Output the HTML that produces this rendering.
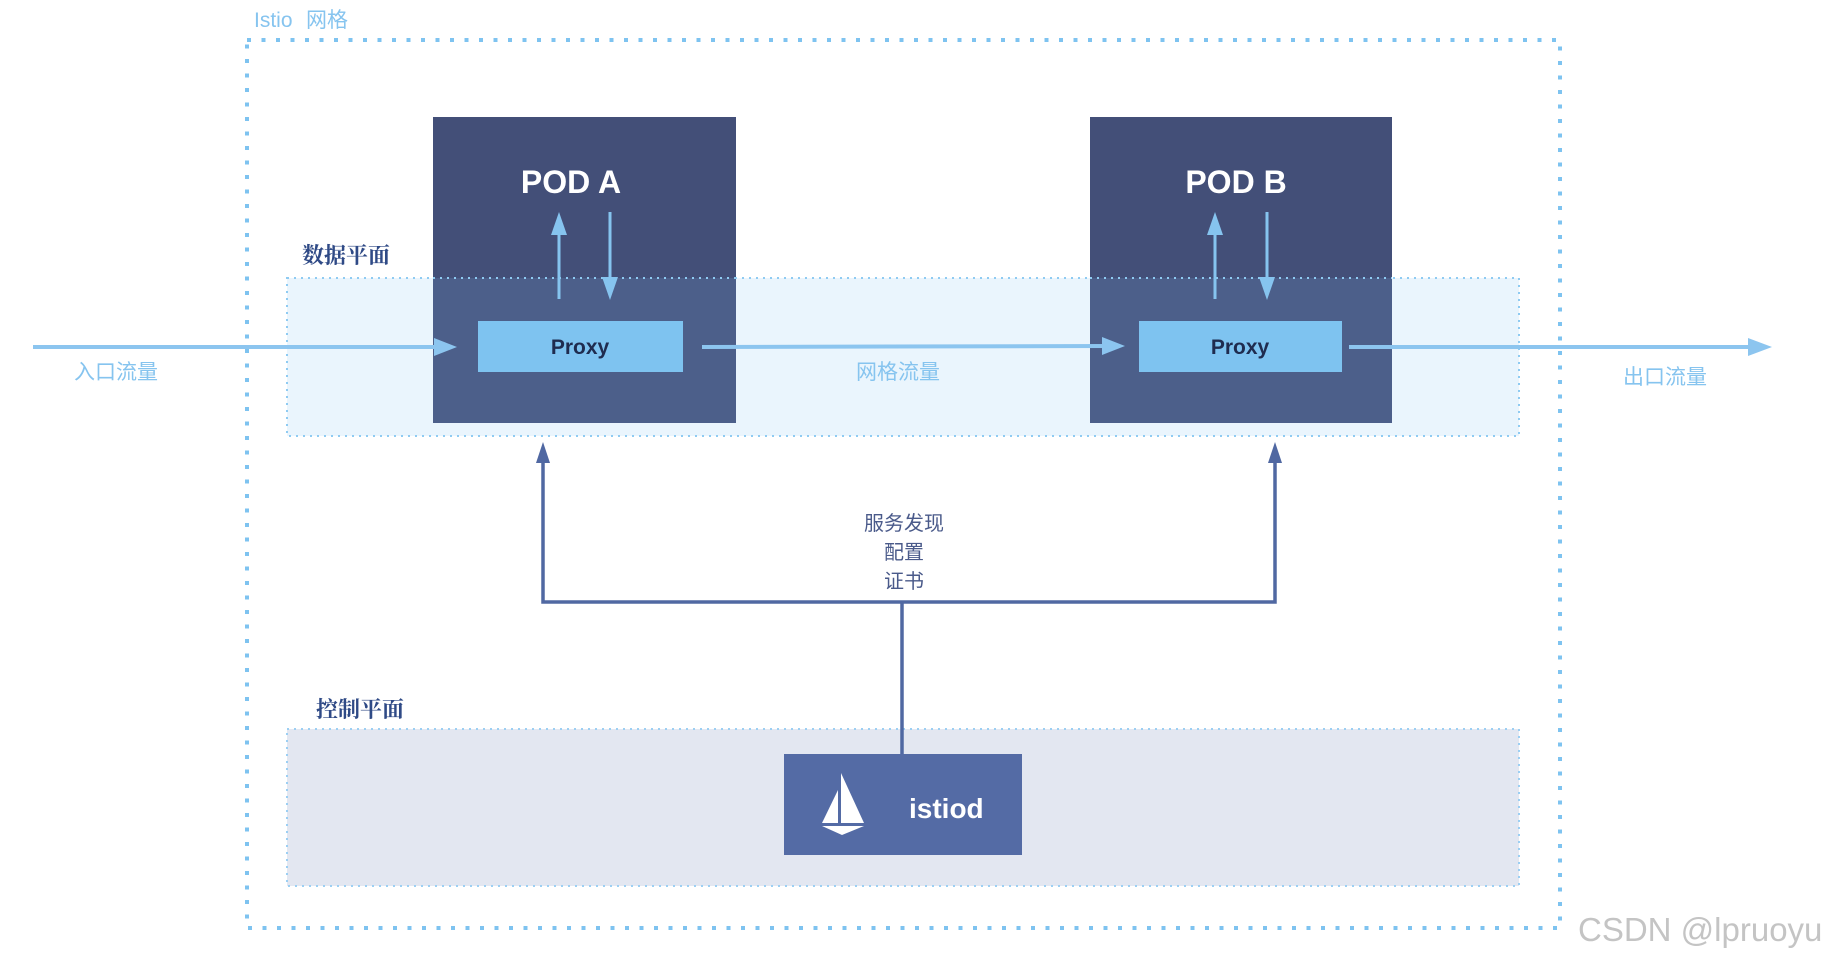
<!DOCTYPE html>
<html><head><meta charset="utf-8"><style>
html,body{margin:0;padding:0;background:#fff;width:1823px;height:962px;overflow:hidden}
svg{display:block}
.s{font-family:"Liberation Sans","Noto Sans CJK SC",sans-serif}
.b{font-family:"Liberation Sans","Noto Sans CJK SC",sans-serif;font-weight:bold}
.sr{font-family:"Liberation Serif","Noto Serif CJK SC",serif;font-weight:bold}
</style></head><body>
<svg width="1823" height="962" viewBox="0 0 1823 962" xmlns="http://www.w3.org/2000/svg">
<text x="254" y="27" class="s" font-size="21" fill="#86c4ef">Istio</text>
<text x="306" y="27" class="s" font-size="21" fill="#86c4ef">网格</text>
<rect x="247" y="40" width="1313" height="888" fill="none" stroke="#7ec3f0" stroke-width="4" stroke-dasharray="4 10.5"/>
<rect x="287" y="278" width="1232" height="158" fill="#eaf5fd" stroke="#8fcbf2" stroke-width="2" stroke-dasharray="2 5"/>
<text x="302" y="263" class="sr" font-size="22" fill="#2f4a86">数据平面</text>
<rect x="287" y="729" width="1232" height="157" fill="#e3e7f1" stroke="#9ccff3" stroke-width="2" stroke-dasharray="2 5"/>
<text x="316" y="717" class="sr" font-size="22" fill="#2f4a86">控制平面</text>
<rect x="433" y="117" width="303" height="161" fill="#434f78"/>
<rect x="433" y="278" width="303" height="145" fill="#4c5f8a"/>
<rect x="1090" y="117" width="302" height="161" fill="#434f78"/>
<rect x="1090" y="278" width="302" height="145" fill="#4c5f8a"/>
<line x1="433" y1="278" x2="736" y2="278" stroke="#8fcbf2" stroke-width="2" stroke-dasharray="2 5"/>
<line x1="1090" y1="278" x2="1392" y2="278" stroke="#8fcbf2" stroke-width="2" stroke-dasharray="2 5"/>
<text x="571" y="193" text-anchor="middle" class="b" font-size="32" fill="#fff">POD A</text>
<text x="1236" y="193" text-anchor="middle" class="b" font-size="32" fill="#fff">POD B</text>
<rect x="478" y="321" width="205" height="51" fill="#7ec3f0"/>
<rect x="1139" y="321" width="203" height="51" fill="#7ec3f0"/>
<text x="580" y="354" text-anchor="middle" class="b" font-size="21" fill="#1f2c4f">Proxy</text>
<text x="1240" y="354" text-anchor="middle" class="b" font-size="21" fill="#1f2c4f">Proxy</text>
<g stroke="#86c4ef" stroke-width="3" fill="#86c4ef">
<line x1="559" y1="299" x2="559" y2="228"/><polygon points="559,212 551,235 567,235" stroke="none"/>
<line x1="610" y1="212" x2="610" y2="284"/><polygon points="610,300 602,277 618,277" stroke="none"/>
<line x1="1215" y1="299" x2="1215" y2="228"/><polygon points="1215,212 1207,235 1223,235" stroke="none"/>
<line x1="1267" y1="212" x2="1267" y2="284"/><polygon points="1267,300 1259,277 1275,277" stroke="none"/>
</g>
<g stroke="#8cc5ef" stroke-width="4" fill="#8cc5ef">
<line x1="33" y1="347" x2="440" y2="347"/><polygon points="457,347 434,338 434,356" stroke="none"/>
<line x1="702" y1="347" x2="1108" y2="346"/><polygon points="1125,346 1102,337 1102,355" stroke="none"/>
<line x1="1349" y1="347" x2="1755" y2="347"/><polygon points="1772,347 1748,338 1748,356" stroke="none"/>
</g>
<text x="116" y="379" text-anchor="middle" class="s" font-size="21" fill="#86c4ef">入口流量</text>
<text x="898" y="379" text-anchor="middle" class="s" font-size="21" fill="#86c4ef">网格流量</text>
<text x="1665" y="384" text-anchor="middle" class="s" font-size="21" fill="#86c4ef">出口流量</text>
<g stroke="#5068a2" stroke-width="3.5" fill="none">
<polyline points="543,458 543,602 1275,602 1275,458"/>
<line x1="902" y1="602" x2="902" y2="754"/>
</g>
<polygon points="543,442 536,463 550,463" fill="#5068a2"/>
<polygon points="1275,442 1268,463 1282,463" fill="#5068a2"/>
<text x="904" y="530" text-anchor="middle" class="s" font-size="20" fill="#4a5a8a">服务发现</text>
<text x="904" y="559" text-anchor="middle" class="s" font-size="20" fill="#4a5a8a">配置</text>
<text x="904" y="588" text-anchor="middle" class="s" font-size="20" fill="#4a5a8a">证书</text>
<rect x="784" y="754" width="238" height="101" fill="#546ba5"/>
<polygon points="841,773 841,823 864,823" fill="#fff"/>
<polygon points="838,790 838,823 822,823" fill="#fff"/>
<polygon points="822,826 864,826 842,835" fill="#fff"/>
<text x="909" y="818" class="b" font-size="28" fill="#fff">istiod</text>
<text x="1578" y="941" class="s" font-size="33" fill="#c4c4c4">CSDN @lpruoyu</text>
</svg>
</body></html>
